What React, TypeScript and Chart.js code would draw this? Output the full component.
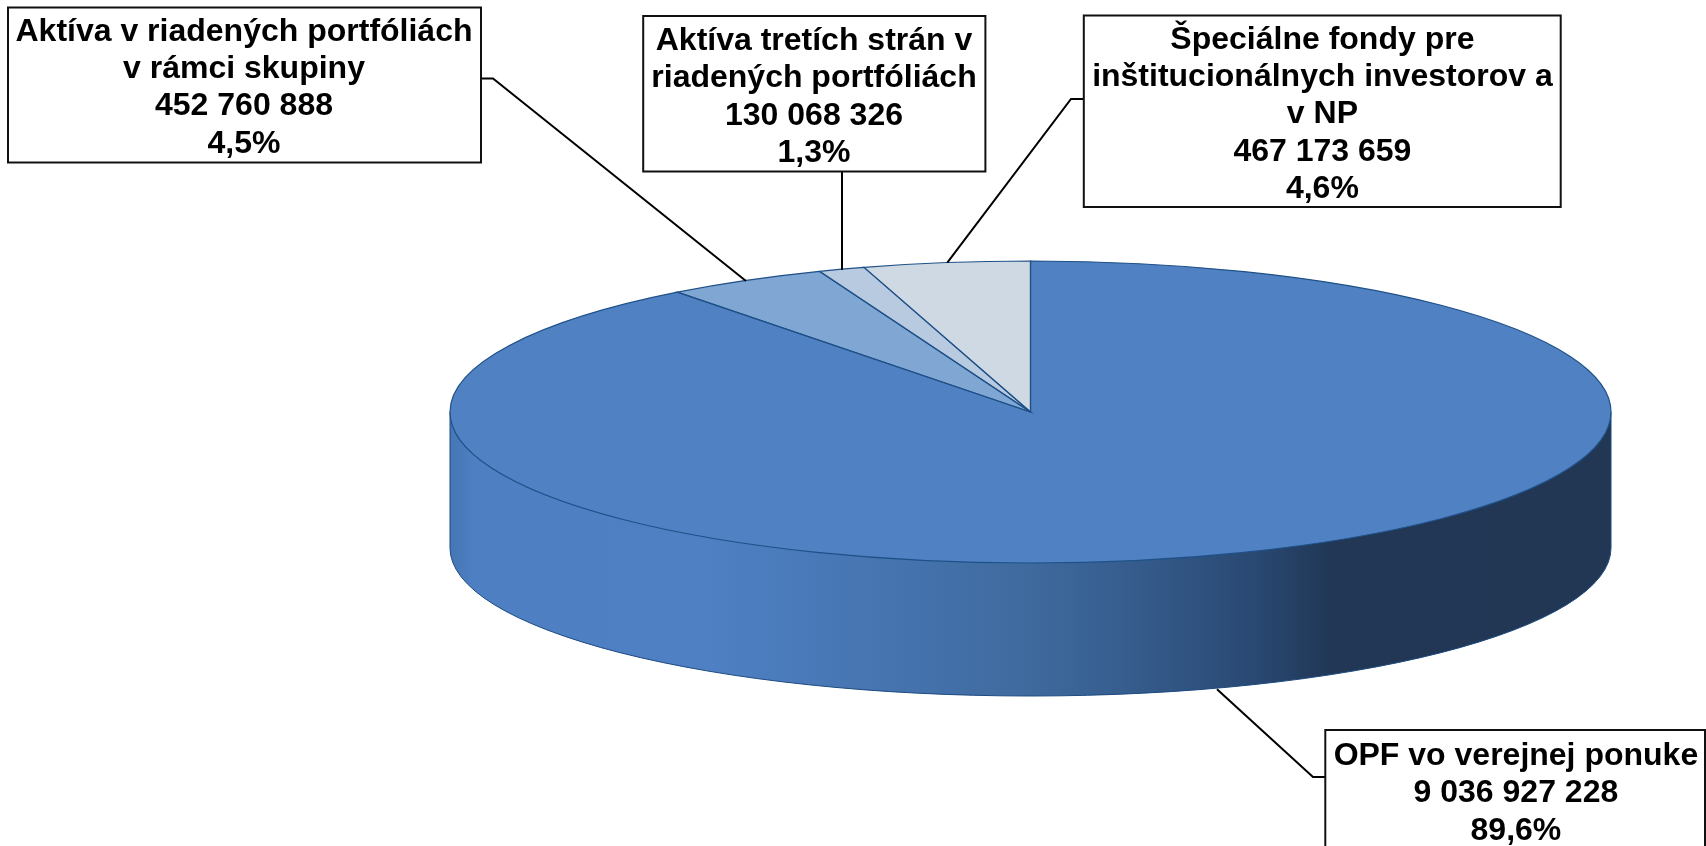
import React, { useEffect, useRef } from "react";
import { Chart, registerables } from "chart.js";

Chart.register(...registerables);

const categories = [
  "OPF vo verejnej ponuke",
  "Aktíva v riadených portfóliách v rámci skupiny",
  "Aktíva tretích strán v riadených portfóliách",
  "Špeciálne fondy pre inštitucionálnych investorov a v NP",
];
const values = [9036927228, 452760888, 130068326, 467173659];
const valueLabels = ["9 036 927 228", "452 760 888", "130 068 326", "467 173 659"];
const percentLabels = ["89,6%", "4,5%", "1,3%", "4,6%"];
const nameLines = [
  ["OPF vo verejnej ponuke"],
  ["Aktíva v riadených portfóliách", "v rámci skupiny"],
  ["Aktíva tretích strán v", "riadených portfóliách"],
  ["Špeciálne fondy pre", "inštitucionálnych investorov a", "v NP"],
];
const sliceColors = ["#4f81c3", "#80a7d3", "#b8cae0", "#cfd9e4"];

const CX = 1030.5, CY = 412, RX = 580.5, RY = 151, DEPTH = 136, BOTTOM_RY = 148;
const FONT = 'bold 32px "Liberation Sans", Arial, sans-serif';
const PITCH = 37.3;

const boxes = [
  { x0: 1325.3, y0: 730, x1: 1705, y1: 870, tx: 1515.9, base: 765, leader: [[1217, 689.3], [1313, 777], [1325.3, 777]] },
  { x0: 8, y0: 7.5, x1: 481, y1: 162.5, tx: 244, base: 40.7, leader: [[481, 78.5], [493, 78.5], [746, 281]] },
  { x0: 643.2, y0: 16, x1: 985.4, y1: 171.5, tx: 814, base: 50, leader: [[842, 171.5], [842, 270]] },
  { x0: 1083.8, y0: 15.5, x1: 1560.7, y1: 207, tx: 1322.4, base: 48.7, leader: [[1083.8, 99], [1071, 99], [947.3, 262.7]] },
];

const pie3d = {
  id: "pie3d",
  beforeDatasetsDraw(chart: any) {
    const ctx = chart.ctx;
    const arc0 = chart.getDatasetMeta(0).data[0];
    ctx.save();
    const g = ctx.createLinearGradient(CX - RX, 0, CX + RX, 0);
    g.addColorStop(0, "#4576b4");
    g.addColorStop(0.02, "#4d7fc2");
    g.addColorStop(0.22, "#4e80c3");
    g.addColorStop(0.35, "#4776b3");
    g.addColorStop(0.5, "#3f6a9e");
    g.addColorStop(0.6, "#345a8a");
    g.addColorStop(0.7, "#284770");
    g.addColorStop(0.76, "#213755");
    g.addColorStop(1, "#223754");
    ctx.beginPath();
    ctx.moveTo(CX - RX, CY);
    ctx.lineTo(CX - RX, CY + DEPTH);
    ctx.ellipse(CX, CY + DEPTH, RX, BOTTOM_RY, 0, Math.PI, 0, true);
    ctx.lineTo(CX + RX, CY);
    ctx.closePath();
    ctx.fillStyle = g;
    ctx.fill();
    ctx.strokeStyle = "#1d4a80";
    ctx.lineWidth = 1;
    ctx.stroke();
    ctx.restore();
    // the library draws the slices; they are only squashed into an ellipse here
    ctx.save();
    ctx.translate(CX, CY);
    ctx.scale(RX / arc0.outerRadius, RY / arc0.outerRadius);
    ctx.translate(-arc0.x, -arc0.y);
  },
  afterDatasetsDraw(chart: any) {
    const ctx = chart.ctx;
    ctx.restore();
    const arcs = chart.getDatasetMeta(0).data;
    // slice outlines: path built in squashed space, stroked in page space for an even width
    arcs.forEach((a: any) => {
      ctx.save();
      ctx.translate(CX, CY);
      ctx.scale(RX / a.outerRadius, RY / a.outerRadius);
      ctx.translate(-a.x, -a.y);
      ctx.beginPath();
      ctx.moveTo(a.x, a.y);
      ctx.arc(a.x, a.y, a.outerRadius, a.startAngle, a.endAngle);
      ctx.closePath();
      ctx.restore();
      ctx.strokeStyle = "#1f5188";
      ctx.lineWidth = 1.2;
      ctx.stroke();
    });
    // callouts
    ctx.strokeStyle = "#000000";
    ctx.lineWidth = 2;
    boxes.forEach((b) => {
      ctx.beginPath();
      b.leader.forEach(([x, y], i) => (i ? ctx.lineTo(x, y) : ctx.moveTo(x, y)));
      ctx.stroke();
    });
    ctx.textAlign = "center";
    ctx.textBaseline = "alphabetic";
    ctx.font = FONT;
    boxes.forEach((b, i) => {
      ctx.fillStyle = "#ffffff";
      ctx.fillRect(b.x0, b.y0, b.x1 - b.x0, b.y1 - b.y0);
      ctx.strokeStyle = "#111111";
      ctx.lineWidth = 2;
      ctx.strokeRect(b.x0, b.y0, b.x1 - b.x0, b.y1 - b.y0);
      ctx.fillStyle = "#000000";
      [...nameLines[i], valueLabels[i], percentLabels[i]].forEach((t, k) => {
        ctx.fillText(t, b.tx, b.base + k * PITCH);
      });
    });
  },
};

export default function App() {
  const ref = useRef<HTMLCanvasElement>(null);
  useEffect(() => {
    document.body.style.margin = "0";
    const chart = new Chart(ref.current!, {
      type: "pie",
      data: {
        labels: categories,
        datasets: [{ data: values, backgroundColor: sliceColors, borderWidth: 0 }],
      },
      options: {
        responsive: false,
        animation: false,
        rotation: 0,
        layout: { padding: 0 },
        plugins: { legend: { display: false }, tooltip: { enabled: false } },
      },
      plugins: [pie3d],
    } as any);
    return () => chart.destroy();
  }, []);
  return <canvas ref={ref} width={1706} height={846} style={{ display: "block", background: "#ffffff" }} />;
}
